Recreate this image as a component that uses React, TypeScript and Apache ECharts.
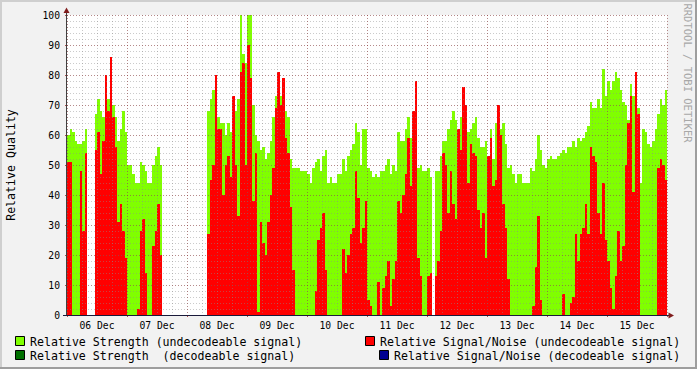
import React, { useEffect, useRef } from "react";
import * as echarts from "echarts";

// Time axis: hours since 06 Dec 00:00, one sample per hour
const dayLabels = ["06 Dec", "07 Dec", "08 Dec", "09 Dec", "10 Dec", "11 Dec", "12 Dec", "13 Dec", "14 Dec", "15 Dec"];
const hoursShown = 240;

// Relative Strength (undecodeable signal)
const strength: (number | null)[] = [
  60, 62, 61, 58, 57, 57, 58, 62, null, null,
  null, 67, 72, 68, 66, 74, 72, 75, 70, 66,
  58, 62, 68, 61, 50, 50, 47, 44, 44, 51,
  50, 48, 44, 44, 50, 53, 56, 50, null, null,
  null, null, null, null, null, null, null, null, null, null,
  null, null, null, null, null, null, 68, 72, 75, 70,
  66, 64, 64, 60, 64, 61, 60, 68, 72, 100,
  87, 84, 100, 100, 70, 60, 58, 55, 56, 52,
  54, 58, 66, 73, 74, 73, 71, 68, 66, 52,
  49, 49, 49, 48, 48, 48, 47, 44, 49, 51,
  52, 48, 53, 55, 44, 46, 44, 44, 47, 47,
  52, 48, 53, 55, 57, 64, 61, 50, 62, 62,
  49, 48, 46, 47, 46, 48, 48, 50, 52, 47,
  50, 48, 61, 58, 58, 62, 66, 59, 60, 63,
  49, 50, 48, 48, 49, 46, null, 48, 48, 53,
  58, 58, 62, 65, 68, 65, 62, 66, 68, 66,
  61, 62, 64, 66, 59, 56, 56, 58, 52, 62,
  52, 64, 68, 62, 64, 57, 49, 50, 47, 44,
  47, 47, 44, 44, 44, 49, 48, 52, 60, 55,
  50, 49, 52, 53, 52, 52, 53, 54, 55, 54,
  56, 56, 58, 56, 59, 58, 59, 61, 63, 71,
  69, 69, 72, 69, 82, 73, 78, 75, 78, 81,
  79, 75, 71, 70, 65, 77, 73, 78, 69, 44,
  62, 61, 57, 56, 58, 62, 67, 72, 70, 75,
];

// Relative Signal/Noise (undecodeable signal)
const signalNoise: (number | null)[] = [
  51, 51, 0, 0, 0, 48, 28, 54, null, null,
  null, 55, 61, 47, 58, 80, 68, 86, 66, 56,
  31, 37, 28, 19, 0, 0, 0, 0, 2, 28,
  32, 14, 0, 0, 23, 28, 37, 20, null, null,
  null, null, null, null, null, null, null, null, null, null,
  null, null, null, null, null, null, 27, 45, 50, 80,
  62, 62, 40, 50, 53, 46, 73, 50, 33, 81,
  84, 50, 90, 79, 38, 54, 1, 31, 24, 20,
  31, 40, 49, 69, 81, 70, 79, 59, 54, 36,
  15, 0, 0, 0, 0, 0, 0, 0, 0, 8,
  25, 29, 34, 15, 0, 0, 0, 0, 0, 0,
  22, 14, 20, 27, 29, 48, 39, 24, 29, 38,
  5, 3, 0, 0, 11, 0, 9, 13, 18, 3,
  12, 18, 38, 34, 40, 47, 59, 43, 68, 78,
  19, 13, 0, 0, 13, 14, null, 13, 18, 28,
  54, 50, 34, 48, 37, 32, 62, 55, 76, 70,
  44, 57, 54, 53, 35, 29, 34, 19, 53, 59,
  43, 45, 70, 60, 37, 29, 12, 0, 0, 0,
  0, 0, 0, 0, 0, 0, 3, 16, 33, 5,
  0, 0, 0, 0, 0, 0, 0, 0, 7, 0,
  0, 4, 6, 27, 18, 27, 29, 37, 27, 56,
  53, 51, 34, 27, 44, 25, 18, 9, 2, 13,
  28, 18, 23, 50, 64, 73, 41, 81, 67, 0,
  0, 0, 0, 0, 0, 0, 49, 52, 50, 45,
];

const legendItems = [
  { label: "Relative Strength (undecodeable signal)", color: "#80ff00" },
  { label: "Relative Strength  (decodeable signal)", color: "#007000" },
  { label: "Relative Signal/Noise (undecodeable signal)", color: "#ff0000" },
  { label: "Relative Signal/Noise (decodeable signal)", color: "#000090" },
];

const FONT = '"DejaVu Sans Mono", monospace';
const MINOR = "rgba(140,140,140,0.45)";
const MAJOR = "rgba(150,40,40,0.40)";
const ARROW = "#801d1d";

function toData(arr: (number | null)[]) {
  const out: number[][] = [];
  arr.forEach((v, i) => {
    if (v !== null && v > 0) out.push([i, v]);
  });
  return out;
}

function makeRender(color: string) {
  return (_params: any, api: any) => {
    const h = api.value(0) as number;
    const v = api.value(1) as number;
    const a = api.coord([h, v]);
    const b = api.coord([h + 1, 0]);
    const x0 = Math.round(a[0]);
    const x1 = Math.round(b[0]);
    const y0 = Math.round(a[1]);
    const y1 = Math.round(b[1]);
    return {
      type: "rect",
      shape: { x: x0, y: y0, width: x1 - x0, height: y1 - y0 },
      style: { fill: color },
    };
  };
}

function txt(text: string, x: number, y: number, size: number, fill: string, align: string, rotation = 0) {
  return {
    type: "text",
    x,
    y,
    rotation,
    silent: true,
    style: {
      text,
      font: `${size}px ${FONT}`,
      fill,
      textAlign: align,
      textVerticalAlign: "middle",
      align,
      verticalAlign: "middle",
    },
  };
}

export default function App() {
  const ref = useRef<HTMLDivElement>(null);
  useEffect(() => {
    document.body.style.margin = "0";
    const chart = echarts.init(ref.current!, null, { renderer: "svg" });

    const legendPos = [
      { sx: 15.5, sy: 336.5, tx: 30, ty: 341.5 },
      { sx: 15.5, sy: 350.5, tx: 30, ty: 355.5 },
      { sx: 365.5, sy: 336.5, tx: 380, ty: 341.5 },
      { sx: 379.5, sy: 350.5, tx: 394, ty: 355.5 },
    ];
    const legendGraphics: any[] = [];
    legendItems.forEach((it, i) => {
      const p = legendPos[i];
      legendGraphics.push({
        type: "rect",
        shape: { x: p.sx, y: p.sy, width: 9, height: 9 },
        style: { fill: it.color, stroke: "#000", lineWidth: 1 },
        silent: true,
      });
      legendGraphics.push(txt(it.label, p.tx, p.ty, 11.6, "#000", "left"));
    });

    const option: any = {
      animation: false,
      backgroundColor: "#f2f2f2",
      grid: {
        left: 67,
        top: 15,
        width: 600,
        height: 300,
        show: true,
        backgroundColor: "#ffffff",
        borderWidth: 0,
      },
      xAxis: [
        {
          type: "value",
          min: 0,
          max: hoursShown,
          interval: 6,
          position: "bottom",
          z: 10,
          axisLine: { show: false },
          axisTick: { show: false },
          axisLabel: {
            show: true,
            margin: 5,
            fontFamily: FONT,
            fontSize: 9.7,
            color: "#000",
            showMinLabel: true,
            showMaxLabel: true,
            formatter: (v: number) => {
              if ((v - 12) % 24 === 0) {
                const idx = (v - 12) / 24;
                return dayLabels[idx] || "";
              }
              return "";
            },
          },
          splitLine: { show: true, lineStyle: { color: MINOR, type: [1, 2], width: 1 } },
        },
        {
          type: "value",
          min: 0,
          max: hoursShown,
          interval: 24,
          position: "bottom",
          offset: 0,
          z: 11,
          axisLine: { show: false },
          axisTick: { show: true, length: 2, lineStyle: { color: "#b05050" } },
          axisLabel: { show: false },
          splitLine: { show: true, lineStyle: { color: MAJOR, type: [1, 2], width: 1 } },
        },
      ],
      yAxis: [
        {
          type: "value",
          min: 0,
          max: 100,
          interval: 2,
          position: "left",
          z: 10,
          axisLine: { show: false },
          axisTick: { show: false },
          axisLabel: { show: false },
          splitLine: { show: true, lineStyle: { color: MINOR, type: [1, 2], width: 1 } },
        },
        {
          type: "value",
          min: 0,
          max: 100,
          interval: 10,
          position: "left",
          offset: 0,
          z: 11,
          axisLine: { show: false },
          axisTick: { show: true, length: 2, lineStyle: { color: "#b05050" } },
          axisLabel: { show: true, margin: 7, fontFamily: FONT, fontSize: 9.7, color: "#000" },
          splitLine: { show: true, lineStyle: { color: MAJOR, type: [1, 2], width: 1 } },
        },
      ],
      series: [
        {
          type: "custom",
          name: "Relative Strength (undecodeable signal)",
          xAxisIndex: 0,
          yAxisIndex: 0,
          renderItem: makeRender("#80ff00"),
          data: toData(strength),
          encode: { x: 0, y: 1 },
          silent: true,
          z: 2,
        },
        {
          type: "custom",
          name: "Relative Signal/Noise (undecodeable signal)",
          xAxisIndex: 0,
          yAxisIndex: 0,
          renderItem: makeRender("#ff0000"),
          data: toData(signalNoise),
          encode: { x: 0, y: 1 },
          silent: true,
          z: 3,
        },
      ],
      graphic: [
        { type: "rect", silent: true, shape: { x: 0, y: 0, width: 697, height: 2 }, style: { fill: "#cfcfcf" } },
        { type: "rect", silent: true, shape: { x: 0, y: 0, width: 2, height: 369 }, style: { fill: "#cfcfcf" } },
        { type: "rect", silent: true, shape: { x: 0, y: 367, width: 697, height: 2 }, style: { fill: "#9e9e9e" } },
        { type: "rect", silent: true, shape: { x: 695, y: 0, width: 2, height: 369 }, style: { fill: "#9e9e9e" } },
        { type: "line", silent: true, z: 20, shape: { x1: 66.5, y1: 11, x2: 66.5, y2: 316 }, style: { stroke: "#404040", lineWidth: 1 } },
        { type: "line", silent: true, z: 20, shape: { x1: 63, y1: 315.5, x2: 670, y2: 315.5 }, style: { stroke: "#1a1a3a", lineWidth: 1 } },
        { type: "polygon", silent: true, z: 21, shape: { points: [[66.5, 7.5], [63.5, 13], [69.5, 13]] }, style: { fill: ARROW } },
        { type: "polygon", silent: true, z: 21, shape: { points: [[674, 315.5], [668.5, 312.5], [668.5, 318.5]] }, style: { fill: ARROW } },
        txt("Relative Quality", 11, 165, 11.6, "#000", "center", Math.PI / 2),
        txt("RRDTOOL / TOBI OETIKER", 688, 73, 10.5, "#a8a8a8", "center", -Math.PI / 2),
        ...legendGraphics,
      ],
    };

    chart.setOption(option);
    return () => chart.dispose();
  }, []);
  return <div ref={ref} style={{ width: 697, height: 369 }} />;
}
